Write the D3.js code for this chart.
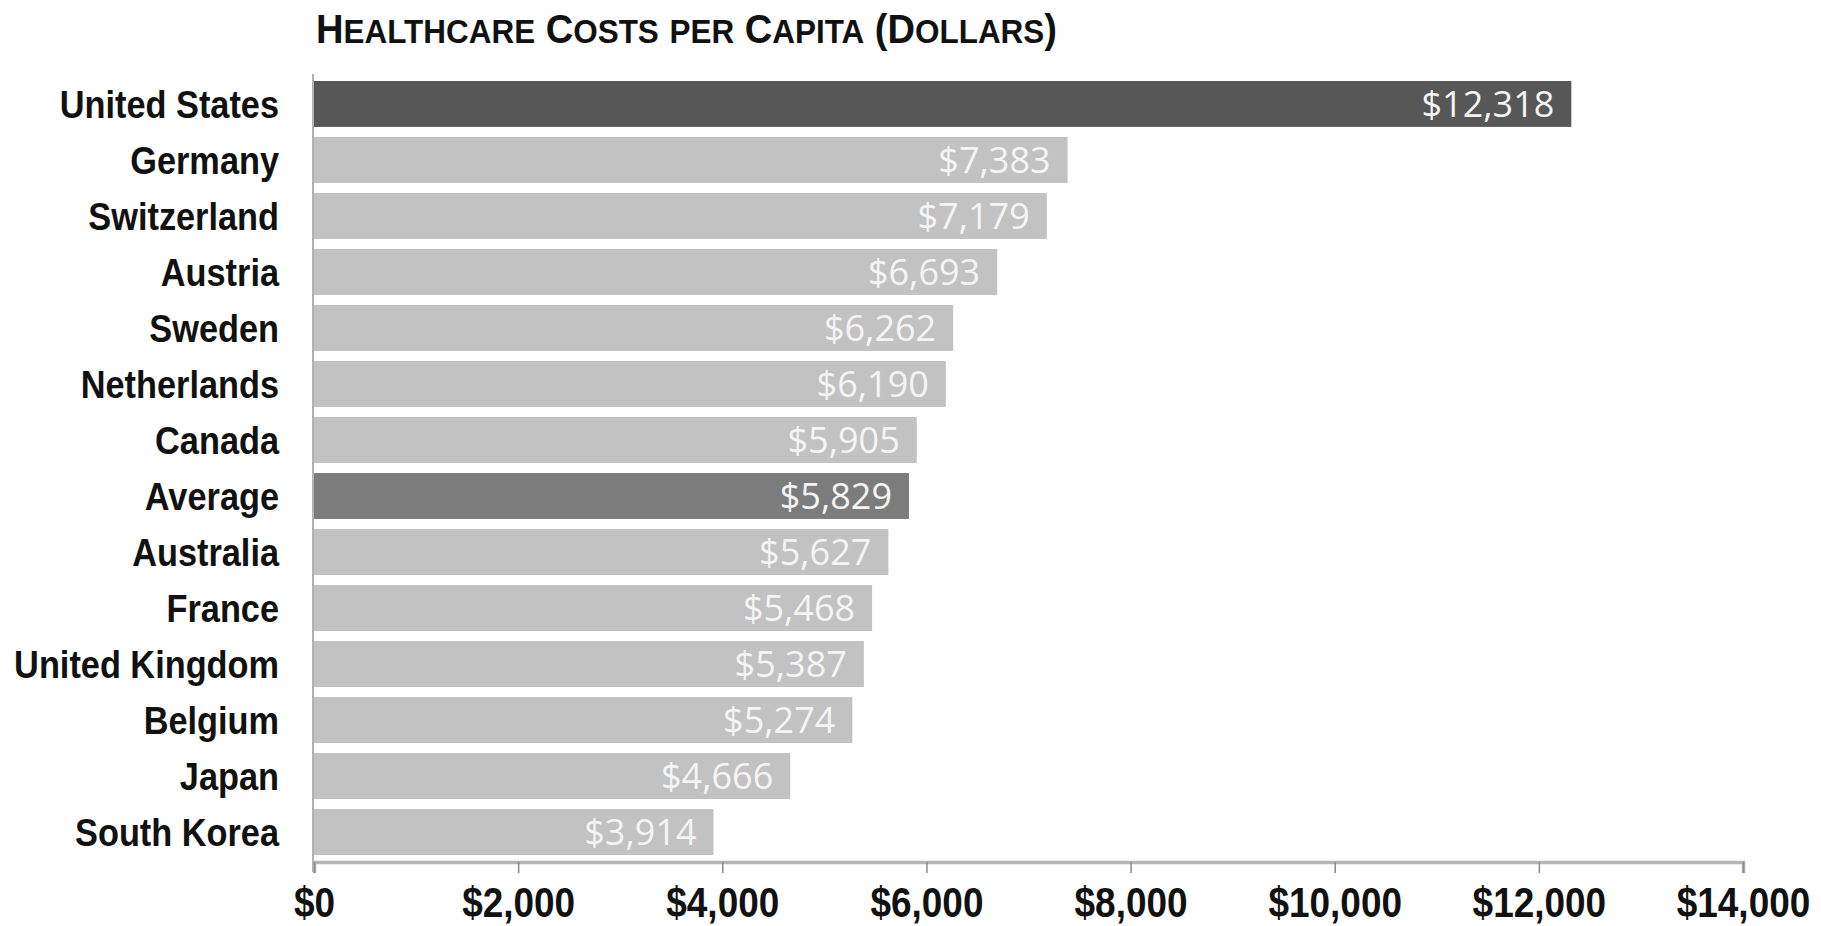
<!DOCTYPE html>
<html><head><meta charset="utf-8">
<script src="https://cdn.jsdelivr.net/npm/d3@7"></script>
<style>
html,body{margin:0;padding:0;background:#fff;}
svg{display:block;}
</style></head>
<body>
<svg id="chart" width="1821" height="926"></svg>
<script>
const categories = ["United States","Germany","Switzerland","Austria","Sweden","Netherlands","Canada","Average","Australia","France","United Kingdom","Belgium","Japan","South Korea"];
const costs = [12318,7383,7179,6693,6262,6190,5905,5829,5627,5468,5387,5274,4666,3914];
const highlight = {"United States":"#575757","Average":"#7c7c7c"};
const tickValues = [0,2000,4000,6000,8000,10000,12000,14000];
const titleText = "Healthcare Costs per Capita (Dollars)";

const data = categories.map((c,i)=>({name:c,value:costs[i]}));
const svg = d3.select("#chart");
const x = d3.scaleLinear().domain([0,14000]).range([314,1743]);
const y = d3.scaleBand().domain(categories).range([75,861]).paddingInner(0.18).paddingOuter(0.107);
const fmt = d3.format("$,");
const boldFont = "'Liberation Sans','Arial',sans-serif";

// title in small caps built from tspans
const title = svg.append("text").attr("x",316).attr("y",43)
  .attr("font-family",boldFont).attr("font-weight","bold").attr("fill","#111");
for (const ch of titleText) {
  const small = ch >= "a" && ch <= "z";
  title.append("tspan").attr("font-size",small?33:40).text(small?ch.toUpperCase():ch);
}
title.attr("textLength",741).attr("lengthAdjust","spacingAndGlyphs");

svg.selectAll("rect.bar").data(data).enter().append("rect").attr("class","bar")
  .attr("x",x(0)).attr("y",d=>y(d.name))
  .attr("width",d=>x(d.value)-x(0)).attr("height",y.bandwidth())
  .attr("fill",d=>highlight[d.name]||"#c2c2c2");

svg.selectAll("text.val").data(data).enter().append("text").attr("class","val")
  .attr("transform",d=>`translate(${x(d.value)-17},${y(d.name)+y.bandwidth()/2})`)
  .attr("dy","0.36em").attr("text-anchor","end")
  .attr("font-family","'Open Sans',sans-serif").attr("font-size",36)
  .attr("fill","#f4f4f4").text(d=>fmt(d.value));

svg.selectAll("text.cat").data(data).enter().append("text").attr("class","cat")
  .attr("transform",d=>`translate(279,${y(d.name)+y.bandwidth()/2}) scale(0.88,1)`)
  .attr("dy","0.36em").attr("text-anchor","end")
  .attr("font-family",boldFont)
  .attr("font-weight","bold").attr("font-size",39).attr("fill","#111")
  .text(d=>d.name);

// vertical axis line
svg.append("line").attr("x1",x(0)-1).attr("x2",x(0)-1).attr("y1",74).attr("y2",872)
  .attr("stroke","#9a9a9a").attr("stroke-width",1.5);

const xAxis = d3.axisBottom(x).tickValues(tickValues).tickFormat(fmt).tickSize(11).tickPadding(14);
const g = svg.append("g").attr("transform","translate(0,862)").call(xAxis);
g.select(".domain").attr("stroke","#b5b5b5").attr("stroke-width",3.5);
g.selectAll(".tick line").attr("stroke","#8a8a8a").attr("stroke-width",1.5);
g.selectAll(".tick text").attr("font-family",boldFont)
  .attr("font-weight","bold").attr("font-size",42).attr("fill","#111")
  .attr("transform","scale(0.88,1)");
</script>
</body></html>
